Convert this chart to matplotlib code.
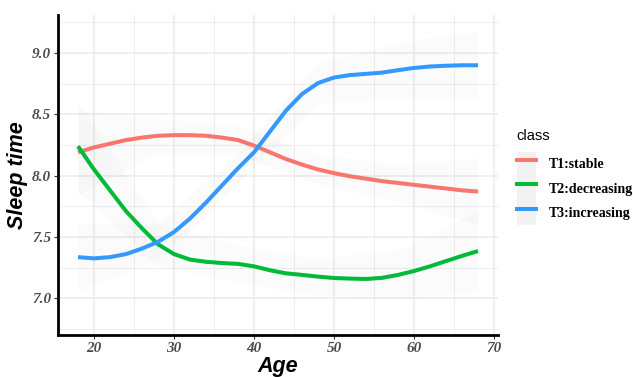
import numpy as np
import matplotlib
matplotlib.use('Agg')
import matplotlib.pyplot as plt
from matplotlib.lines import Line2D
from matplotlib.patches import Rectangle
from matplotlib.legend_handler import HandlerTuple

##-----------------------data--------------------------------##
ages = [18, 20, 22, 24, 26, 28, 30, 32, 34, 36, 38, 40, 42,
        44, 46, 48, 50, 52, 54, 56, 58, 60, 62, 64, 66, 68]

t1_stable = [8.19, 8.23, 8.26, 8.29, 8.31, 8.325, 8.33, 8.33, 8.325, 8.31, 8.29, 8.245, 8.19,
             8.135, 8.09, 8.05, 8.02, 7.995, 7.975, 7.955, 7.94, 7.925, 7.91, 7.895, 7.88, 7.87]
t2_decreasing = [8.24, 8.05, 7.88, 7.71, 7.57, 7.44, 7.36, 7.315, 7.297, 7.287, 7.28, 7.26, 7.228,
                 7.203, 7.19, 7.176, 7.165, 7.16, 7.157, 7.166, 7.19, 7.222, 7.26, 7.303, 7.345, 7.385]
t3_increasing = [7.335, 7.325, 7.335, 7.36, 7.405, 7.46, 7.54, 7.65, 7.78, 7.92, 8.06, 8.19, 8.36,
                 8.53, 8.665, 8.755, 8.80, 8.82, 8.83, 8.84, 8.86, 8.878, 8.89, 8.896, 8.90, 8.90]

# half width of the (very faint) se ribbon at ages 18, 28, 38, 48, 58, 68
se_t1 = [0.35, 0.14, 0.12, 0.12, 0.15, 0.27]
se_t2 = [0.36, 0.18, 0.15, 0.15, 0.20, 0.33]
se_t3 = [0.28, 0.15, 0.12, 0.17, 0.22, 0.28]

labels = ['T1:stable', 'T2:decreasing', 'T3:increasing']
colors = ['#F8766D', '#00BA38', '#3399FF']

##-----------------------draw--------------------------------##
fig = plt.figure(figsize=(6.33, 3.77), dpi=100)
ax = fig.add_axes([58/633, 42/377, 440/633, 320/377])

x = np.array(ages)
series = [t1_stable, t2_decreasing, t3_increasing]
ses = [se_t1, se_t2, se_t3]

for y, se in zip(series, ses):
    yb = np.array(y)[::5]
    se = np.array(se)
    ax.fill_between(x[::5], yb - se, yb + se, color='#999999', alpha=0.04, lw=0, zorder=2)

for y, c in zip(series, colors):
    ax.plot(x, y, color=c, lw=2.9, solid_capstyle='butt', solid_joinstyle='round', zorder=3)

ax.set_xlim(15.5, 70.5)
ax.set_ylim(6.70, 9.31)
ax.set_xticks([20, 30, 40, 50, 60, 70])
ax.set_yticks([7.0, 7.5, 8.0, 8.5, 9.0])
ax.set_yticklabels(['7.0', '7.5', '8.0', '8.5', '9.0'])
ax.set_xticks([25, 35, 45, 55, 65], minor=True)
ax.set_yticks([6.75, 7.25, 7.75, 8.25, 8.75, 9.25], minor=True)
ax.grid(which='major', color='#EBEBEB', lw=1.1, zorder=0)
ax.grid(which='minor', color='#EBEBEB', lw=0.6, zorder=0)
ax.set_axisbelow(True)
ax.tick_params(which='minor', length=0)
ax.tick_params(which='major', length=3, width=0.8, color='#333333', pad=2)

for lab in ax.get_xticklabels() + ax.get_yticklabels():
    lab.set_family('Liberation Serif')
    lab.set_weight('bold')
    lab.set_style('italic')
    lab.set_color('#4D4D4D')
    lab.set_fontsize(11)

for s in ['top', 'right']:
    ax.spines[s].set_visible(False)
for s in ['left', 'bottom']:
    ax.spines[s].set_linewidth(2)
    ax.spines[s].set_color('black')

ax.set_xlabel('Age', family='Liberation Sans', weight='bold', style='italic', fontsize=15.5, labelpad=1)
ax.set_ylabel('Sleep time', family='Liberation Sans', weight='bold', style='italic', fontsize=15.5, labelpad=3)

# legend: title as its own text, keys touching like ggplot
fig.text(516/633, 1 - 136/377, 'class', family='Liberation Sans', fontsize=10.5, va='center', ha='left')
handles = [(Rectangle((0, 0), 1, 1, fc='#F2F2F2', ec='none'),
            Line2D([], [], color=c, lw=2.9)) for c in colors]
leg = fig.legend(handles, labels, loc='upper left',
                 bbox_to_anchor=(517/633, 1 - 152/377), frameon=False,
                 borderpad=0, borderaxespad=0,
                 handler_map={tuple: HandlerTuple(ndivide=1, pad=0)},
                 prop={'family': 'Liberation Serif', 'weight': 'bold', 'size': 10},
                 handlelength=1.35, handleheight=2.3, handletextpad=0.95, labelspacing=0)

fig.savefig('out.png', dpi=100)
print('done')
